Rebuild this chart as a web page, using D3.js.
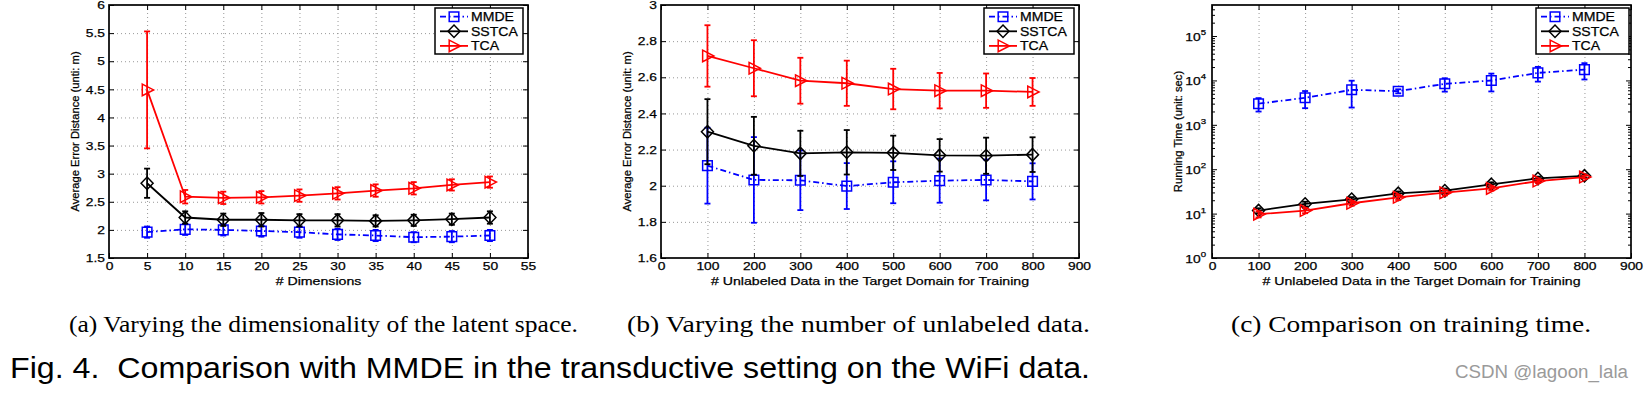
<!DOCTYPE html>
<html lang="en">
<head>
<meta charset="UTF-8">
<title>Comparison with MMDE on the WiFi data</title>
<script src="https://d3js.org/d3.v7.min.js"></script>
<style>
  body { margin: 0; background: #fff; }
  svg text { font-family: "Liberation Sans", Arial, sans-serif; fill: #000; }
  .grid line { stroke: #8c8c8c; stroke-width: 0.9; stroke-dasharray: 1,3; }
  .grid path { display: none; }
  .tk path { display: none; }
  .tk line { stroke: #000; stroke-width: 1; }
  .heavy { stroke: #000; stroke-width: 0.25; }
  .serif { font-family: "Liberation Serif", "Times New Roman", serif !important; }
</style>
</head>
<body>
<svg id="fig" width="1644" height="393"></svg>
<script>
// ---- data ----
const seriesNames = ["MMDE", "SSTCA", "TCA"];

// (a) dimensions
const dims = [5, 10, 15, 20, 25, 30, 35, 40, 45, 50];
const mmdeA = [1.96, 2.01, 2.00, 1.98, 1.96, 1.92, 1.90, 1.87, 1.88, 1.90];
const mmdeAErr = [0.10, 0.10, 0.10, 0.10, 0.10, 0.10, 0.10, 0.09, 0.10, 0.10];
const sstcaA = [2.83, 2.22, 2.18, 2.18, 2.17, 2.17, 2.16, 2.17, 2.19, 2.22];
const sstcaAErr = [0.26, 0.11, 0.11, 0.12, 0.11, 0.11, 0.10, 0.10, 0.10, 0.11];
const tcaA = [4.49, 2.59, 2.57, 2.58, 2.61, 2.65, 2.70, 2.74, 2.80, 2.85];
const tcaAErr = [1.04, 0.12, 0.11, 0.11, 0.11, 0.11, 0.11, 0.11, 0.10, 0.10];

// (b) unlabeled data
const unlabeled = [100, 200, 300, 400, 500, 600, 700, 800];
const mmdeB = [2.111, 2.032, 2.030, 1.998, 2.019, 2.028, 2.032, 2.024];
const mmdeBErr = [0.21, 0.237, 0.165, 0.127, 0.116, 0.122, 0.113, 0.10];
const sstcaB = [2.299, 2.221, 2.179, 2.185, 2.182, 2.168, 2.166, 2.172];
const sstcaBErr = [0.18, 0.16, 0.125, 0.123, 0.095, 0.09, 0.10, 0.096];
const tcaB = [2.718, 2.650, 2.581, 2.567, 2.535, 2.526, 2.526, 2.519];
const tcaBErr = [0.17, 0.155, 0.127, 0.125, 0.112, 0.098, 0.095, 0.077];

// (c) running time (sec)
const mmdeC = [2990, 4070, 6150, 5720, 8390, 9950, 14800, 17500];
const mmdeCErr = [1000, 1700, 3700, 600, 2800, 4300, 5400, 7000];
const sstcaC = [11.7, 16.5, 21, 28.6, 32.8, 45.6, 62, 71];
const sstcaCErr = [1.5, 2, 2.5, 3, 4, 5, 6, 6];
const tcaC = [9.7, 11.7, 17.1, 23.3, 29.6, 37, 54, 66.5];
const tcaCErr = [1.5, 1.5, 2, 3, 4, 4, 5, 5];

// tick labels
const ticksAX = d3.range(0, 56, 5);
const ticksAY = [1.5, 2, 2.5, 3, 3.5, 4, 4.5, 5, 5.5, 6];
const ticksBX = [0, 100, 200, 300, 400, 500, 600, 700, 800, 900];
const ticksBY = [1.6, 1.8, 2, 2.2, 2.4, 2.6, 2.8, 3];
const ticksCY = [1, 10, 100, 1000, 10000, 100000];

const captions = [
  "(a) Varying the dimensionality of the latent space.",
  "(b) Varying the number of unlabeled data.",
  "(c) Comparison on training time."
];
const figTitle = "Fig. 4.  Comparison with MMDE in the transductive setting on the WiFi data.";

// ---- styles ----
const styles = {
  MMDE: { color: "#0000ff", dash: "6,3,1.5,3", marker: "square" },
  SSTCA: { color: "#000000", dash: null, marker: "diamond" },
  TCA: { color: "#ff0000", dash: null, marker: "triangle" }
};
const SX = 1.2; // the source figure is stretched horizontally

function markerPath(kind) {
  if (kind === "square") return "M-4.8,-4.8H4.8V4.8H-4.8Z";
  if (kind === "diamond") return "M0,-6.2L6,0L0,6.2L-6,0Z";
  return "M-4.8,-5.8L6.5,0L-4.8,5.8Z";
}

function stretch(sel, k) {
  sel.each(function () {
    const w = this.getComputedTextLength();
    d3.select(this).attr("textLength", w * k).attr("lengthAdjust", "spacingAndGlyphs");
  });
}

const svg = d3.select("#fig");
svg.append("rect").attr("width", 1644).attr("height", 393).attr("fill", "#fff");

function drawPanel(p) {
  const g = svg.append("g");
  const x = d3.scaleLinear().domain(p.xDomain).range([p.left, p.right]);
  const y = (p.log ? d3.scaleLog() : d3.scaleLinear()).domain(p.yDomain).range([p.bottom, p.top]);
  const w = p.right - p.left, h = p.bottom - p.top;

  // grid
  g.append("g").attr("class", "grid").attr("transform", `translate(0,${p.bottom})`)
    .call(d3.axisBottom(x).tickValues(p.xTicks.slice(1, -1)).tickSize(-h).tickFormat(""));
  if (!p.log) {
    g.append("g").attr("class", "grid").attr("transform", `translate(${p.left},0)`)
      .call(d3.axisLeft(y).tickValues(p.yTicks.slice(1, -1)).tickSize(-w).tickFormat(""));
  }

  // ticks on all four sides, pointing inward
  const xl = g.append("g").attr("class", "tk").attr("transform", `translate(0,${p.bottom})`)
    .call(d3.axisBottom(x).tickValues(p.xTicks).tickSizeInner(-5).tickSizeOuter(0).tickPadding(4).tickFormat(d => d));
  xl.selectAll("text").attr("font-size", 11.5).attr("class", "heavy")
    .attr("font-family", "Liberation Sans, Arial, sans-serif");
  stretch(xl.selectAll("text"), SX);
  g.append("g").attr("class", "tk").attr("transform", `translate(0,${p.top})`)
    .call(d3.axisTop(x).tickValues(p.xTicks).tickSizeInner(-5).tickSizeOuter(0).tickFormat(""));
  const yl = g.append("g").attr("class", "tk").attr("transform", `translate(${p.left},0)`)
    .call(d3.axisLeft(y).tickValues(p.yTicks).tickSizeInner(-5).tickSizeOuter(0).tickPadding(4)
      .tickFormat(p.log ? "" : d => d));
  yl.selectAll("text").attr("font-size", 11.5).attr("class", "heavy")
    .attr("font-family", "Liberation Sans, Arial, sans-serif");
  if (!p.log) stretch(yl.selectAll("text"), SX);
  g.append("g").attr("class", "tk").attr("transform", `translate(${p.right},0)`)
    .call(d3.axisRight(y).tickValues(p.yTicks).tickSizeInner(-5).tickSizeOuter(0).tickFormat(""));

  if (p.log) {
    // minor log ticks
    const minor = [];
    for (let e = 0; e < 6; e++) for (let m = 2; m <= 9; m++) {
      const v = m * Math.pow(10, e);
      if (v < p.yDomain[1]) minor.push(v);
    }
    g.append("g").attr("class", "tk").attr("transform", `translate(${p.left},0)`)
      .call(d3.axisLeft(y).tickValues(minor).tickSizeInner(-3).tickSizeOuter(0).tickFormat(""));
    g.append("g").attr("class", "tk").attr("transform", `translate(${p.right},0)`)
      .call(d3.axisRight(y).tickValues(minor).tickSizeInner(-3).tickSizeOuter(0).tickFormat(""));
    // 10^n labels
    const lab = g.append("g").selectAll("text").data(p.yTicks).join("text")
      .attr("class", "heavy")
      .attr("x", p.left - 6).attr("y", d => y(d) + 5)
      .attr("text-anchor", "end").attr("font-size", 11.5);
    lab.append("tspan").text("10");
    lab.append("tspan").attr("dy", -6).attr("font-size", 8).text(d => Math.round(Math.log10(d)));
    stretch(lab.selectAll("tspan"), SX);
  }

  // box
  g.append("rect").attr("x", p.left).attr("y", p.top).attr("width", w).attr("height", h)
    .attr("fill", "none").attr("stroke", "#000").attr("stroke-width", 1.7);

  // series
  p.series.forEach(s => {
    const st = styles[s.name];
    const pts = p.xs.map((xv, i) => ({ x: xv, v: s.values[i], e: s.err[i] }));
    const sg = g.append("g");
    // error bars
    pts.forEach(d => {
      const lo = d.v - d.e, hi = d.v + d.e;
      const cx = x(d.x);
      sg.append("line").attr("x1", cx).attr("x2", cx).attr("y1", y(lo)).attr("y2", y(hi))
        .attr("stroke", st.color).attr("stroke-width", 1.8);
      [lo, hi].forEach(v => sg.append("line").attr("x1", cx - 3).attr("x2", cx + 3)
        .attr("y1", y(v)).attr("y2", y(v)).attr("stroke", st.color).attr("stroke-width", 1.8));
    });
    sg.append("path").datum(pts)
      .attr("d", d3.line().x(d => x(d.x)).y(d => y(d.v)))
      .attr("fill", "none").attr("stroke", st.color).attr("stroke-width", 1.8)
      .attr("stroke-dasharray", st.dash);
    sg.selectAll(".mk").data(pts).join("path")
      .attr("transform", d => `translate(${x(d.x)},${y(d.v)})`)
      .attr("d", markerPath(st.marker))
      .attr("fill", "none").attr("stroke", st.color).attr("stroke-width", 1.5);
  });

  // axis titles
  const xt = g.append("text").attr("class", "heavy").attr("x", (p.left + p.right) / 2).attr("y", p.bottom + 27)
    .attr("text-anchor", "middle").attr("font-size", 11.6).text(p.xLabel);
  stretch(xt, 1.22);
  g.append("text").attr("class", "heavy")
    .attr("transform", `translate(${p.yLabelX},${(p.top + p.bottom) / 2}) rotate(-90)`)
    .attr("text-anchor", "middle").attr("font-size", 11.2).text(p.yLabel);

  // legend
  const lg = g.append("g").attr("transform", `translate(${p.legendX},8)`);
  lg.append("rect").attr("width", p.legendW).attr("height", 46)
    .attr("fill", "#fff").attr("stroke", "#000").attr("stroke-width", 1.5);
  seriesNames.forEach((n, i) => {
    const st = styles[n];
    const ry = 8.7 + i * 14.6;
    lg.append("line").attr("x1", 5).attr("x2", 33).attr("y1", ry).attr("y2", ry)
      .attr("stroke", st.color).attr("stroke-width", 1.8).attr("stroke-dasharray", st.dash);
    lg.append("path").attr("transform", `translate(19,${ry})`).attr("d", markerPath(st.marker))
      .attr("fill", "none").attr("stroke", st.color).attr("stroke-width", 1.5);
    const t = lg.append("text").attr("class", "heavy").attr("x", 36).attr("y", ry + 4.3)
      .attr("font-size", 12).text(n);
    stretch(t, 1.17);
  });

  // sub caption
  svg.append("text").attr("class", "serif").attr("x", p.capX).attr("y", 332)
    .attr("font-size", 22.5).attr("textLength", p.capW).attr("lengthAdjust", "spacingAndGlyphs")
    .text(p.caption);
}

drawPanel({
  left: 109, right: 528, top: 5, bottom: 258,
  xDomain: [0, 55], yDomain: [1.5, 6], xTicks: ticksAX, yTicks: ticksAY,
  xs: dims,
  series: [
    { name: "MMDE", values: mmdeA, err: mmdeAErr },
    { name: "SSTCA", values: sstcaA, err: sstcaAErr },
    { name: "TCA", values: tcaA, err: tcaAErr }
  ],
  xLabel: "# Dimensions", yLabel: "Average Error Distance (unti: m)", yLabelX: 79,
  legendX: 435, legendW: 88, caption: captions[0], capX: 69, capW: 509
});

drawPanel({
  left: 661, right: 1079, top: 5, bottom: 258,
  xDomain: [0, 900], yDomain: [1.6, 3], xTicks: ticksBX, yTicks: ticksBY,
  xs: unlabeled,
  series: [
    { name: "MMDE", values: mmdeB, err: mmdeBErr },
    { name: "SSTCA", values: sstcaB, err: sstcaBErr },
    { name: "TCA", values: tcaB, err: tcaBErr }
  ],
  xLabel: "# Unlabeled Data in the Target Domain for Training", yLabel: "Average Error Distance (unit: m)", yLabelX: 631,
  legendX: 984, legendW: 90, caption: captions[1], capX: 627, capW: 463
});

drawPanel({
  left: 1212, right: 1631, top: 5, bottom: 258, log: true,
  xDomain: [0, 900], yDomain: [1, 5e5], xTicks: ticksBX, yTicks: ticksCY,
  xs: unlabeled,
  series: [
    { name: "MMDE", values: mmdeC, err: mmdeCErr },
    { name: "SSTCA", values: sstcaC, err: sstcaCErr },
    { name: "TCA", values: tcaC, err: tcaCErr }
  ],
  xLabel: "# Unlabeled Data in the Target Domain for Training", yLabel: "Running Time (unit: sec)", yLabelX: 1182,
  legendX: 1536, legendW: 93, caption: captions[2], capX: 1231, capW: 360
});

svg.append("text").attr("x", 10).attr("y", 378).attr("font-size", 29)
  .style("white-space", "pre").attr("textLength", 1080).attr("lengthAdjust", "spacingAndGlyphs")
  .text(figTitle);
svg.append("text").attr("x", 1455).attr("y", 378).attr("font-size", 18)
  .attr("font-family", "Noto Sans, sans-serif").style("fill", "#9a9a9a")
  .attr("textLength", 173).attr("lengthAdjust", "spacingAndGlyphs").text("CSDN @lagoon_lala");
</script>
</body>
</html>
